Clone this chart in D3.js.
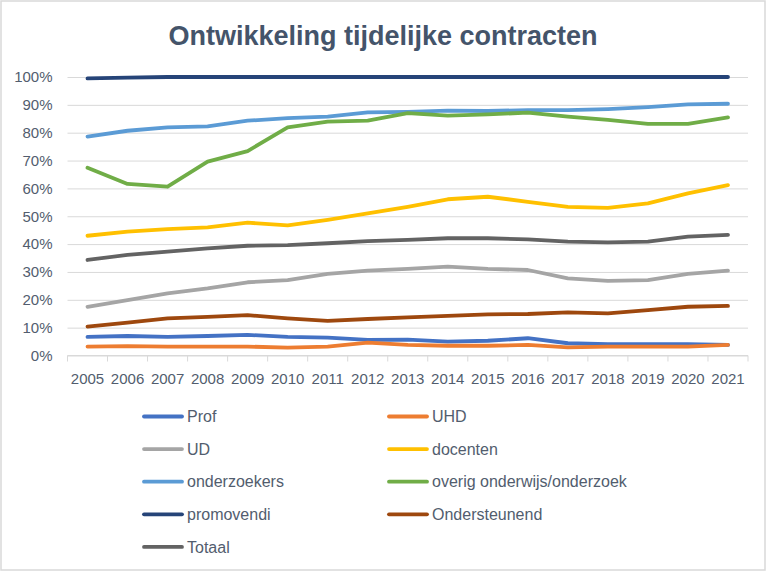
<!DOCTYPE html>
<html>
<head>
<meta charset="utf-8">
<title>Ontwikkeling tijdelijke contracten</title>
<script src="https://cdn.jsdelivr.net/npm/d3@7"></script>
<style>
  body { margin: 0; background: #fff; }
  svg { display: block; font-family: "Liberation Sans", Arial, sans-serif; }
  .axis text { fill: #525d6e; font-size: 15px; }
  .legend text { fill: #525d6e; font-size: 16px; }
</style>
</head>
<body>
<svg width="768" height="573"></svg>
<script>

var years = ["2005","2006","2007","2008","2009","2010","2011","2012","2013",
             "2014","2015","2016","2017","2018","2019","2020","2021"];

var yTicks = [0, 10, 20, 30, 40, 50, 60, 70, 80, 90, 100];

var prof          = [6.7, 7.0, 6.7, 7.0, 7.4, 6.7, 6.4, 5.6, 5.7, 5.0, 5.3, 6.2, 4.4, 4.1, 4.1, 4.1, 3.8];
var uhd           = [3.2, 3.4, 3.2, 3.2, 3.2, 2.8, 3.2, 4.6, 3.8, 3.5, 3.5, 3.8, 2.9, 3.2, 3.2, 3.2, 3.8];
var ud            = [17.5, 19.9, 22.3, 24.1, 26.3, 27.1, 29.3, 30.5, 31.1, 31.9, 31.1, 30.7, 27.7, 26.8, 27.1, 29.3, 30.5];
var docenten      = [43.0, 44.5, 45.4, 46.0, 47.7, 46.7, 48.7, 51.0, 53.4, 56.1, 57.0, 55.2, 53.4, 53.0, 54.6, 58.2, 61.2];
var onderzoekers  = [78.6, 80.7, 81.9, 82.3, 84.3, 85.2, 85.8, 87.3, 87.5, 87.9, 87.8, 88.1, 88.1, 88.5, 89.2, 90.2, 90.4];
var overig        = [67.4, 61.6, 60.6, 69.6, 73.4, 81.9, 84.0, 84.3, 87.0, 86.1, 86.6, 87.2, 85.8, 84.6, 83.2, 83.2, 85.5];
var promovendi    = [99.5, 99.8, 100, 100, 100, 100, 100, 100, 100, 100, 100, 100, 100, 100, 100, 100, 100];
var ondersteunend = [10.4, 11.8, 13.3, 13.9, 14.5, 13.3, 12.4, 13.1, 13.7, 14.2, 14.8, 14.9, 15.5, 15.1, 16.3, 17.5, 17.8];
var totaal        = [34.3, 36.1, 37.3, 38.5, 39.4, 39.6, 40.3, 41.1, 41.5, 42.1, 42.1, 41.7, 40.9, 40.6, 40.9, 42.7, 43.3];

var series = [
  {name: "Prof",                       values: prof,          color: "#4472C4"},
  {name: "UHD",                        values: uhd,           color: "#ED7D31"},
  {name: "UD",                         values: ud,            color: "#A5A5A5"},
  {name: "docenten",                   values: docenten,      color: "#FFC000"},
  {name: "onderzoekers",               values: onderzoekers,  color: "#5B9BD5"},
  {name: "overig onderwijs/onderzoek", values: overig,        color: "#70AD47"},
  {name: "promovendi",                 values: promovendi,    color: "#264478"},
  {name: "Ondersteunend",              values: ondersteunend, color: "#9E480E"},
  {name: "Totaal",                     values: totaal,        color: "#636363"}
];

var svg = d3.select("svg");

// chart border
svg.append("rect")
    .attr("x", 1).attr("y", 1)
    .attr("width", 764).attr("height", 569)
    .attr("fill", "#fff")
    .attr("stroke", "#d9d9d9")
    .attr("stroke-width", 1.5);

svg.append("text")
    .attr("x", 383)
    .attr("y", 45)
    .attr("text-anchor", "middle")
    .attr("font-size", 27)
    .attr("font-weight", "bold")
    .attr("fill", "#44546A")
    .text("Ontwikkeling tijdelijke contracten");

var x = d3.scaleBand()
    .domain(years)
    .range([67.5, 748]);

var y = d3.scaleLinear()
    .domain([0, 100])
    .range([355.5, 77]);

// y axis + gridlines
var yAxis = svg.append("g")
    .attr("class", "axis")
    .attr("transform", "translate(" + x.range()[0] + ",0)")
    .call(d3.axisLeft(y)
        .tickValues(yTicks)
        .tickSize(-(x.range()[1] - x.range()[0]))
        .tickPadding(15)
        .tickFormat(function(d) { return d + "%"; }));
yAxis.select(".domain").remove();
yAxis.selectAll(".tick line").attr("stroke", "#d9d9d9").attr("stroke-width", 1);

// x axis labels
var xAxis = svg.append("g")
    .attr("class", "axis")
    .attr("transform", "translate(0," + y(0) + ")")
    .call(d3.axisBottom(x).tickSize(0).tickPadding(18));
xAxis.select(".domain").remove();

svg.append("line")
    .attr("x1", x.range()[0]).attr("x2", x.range()[1])
    .attr("y1", y(0)).attr("y2", y(0))
    .attr("stroke", "#d9d9d9");

// tick marks sit on the band edges
svg.append("g").selectAll("line")
    .data(d3.range(years.length + 1))
  .enter().append("line")
    .attr("x1", function(i) { return x.range()[0] + i * x.step(); })
    .attr("x2", function(i) { return x.range()[0] + i * x.step(); })
    .attr("y1", y(0))
    .attr("y2", y(0) + 6)
    .attr("stroke", "#d9d9d9");

var line = d3.line()
    .x(function(d, i) { return x(years[i]) + x.bandwidth() / 2; })
    .y(function(d) { return y(d); });

svg.append("g").selectAll("path")
    .data(series)
  .enter().append("path")
    .attr("d", function(s) { return line(s.values); })
    .attr("fill", "none")
    .attr("stroke", function(s) { return s.color; })
    .attr("stroke-width", 3.8)
    .attr("stroke-linejoin", "round")
    .attr("stroke-linecap", "round");

// legend, two columns
var legend = svg.append("g")
    .attr("class", "legend")
    .selectAll("g")
    .data(series)
  .enter().append("g")
    .attr("transform", function(s, i) {
      var col = i % 2, row = Math.floor(i / 2);
      return "translate(" + (col ? 389 : 144) + "," + (416.5 + row * 32.6) + ")";
    });

legend.append("line")
    .attr("x1", 0).attr("x2", 38)
    .attr("stroke", function(s) { return s.color; })
    .attr("stroke-width", 3.8)
    .attr("stroke-linecap", "round");

legend.append("text")
    .attr("x", 43)
    .attr("dy", "0.35em")
    .text(function(s) { return s.name; });

</script>
</body>
</html>
